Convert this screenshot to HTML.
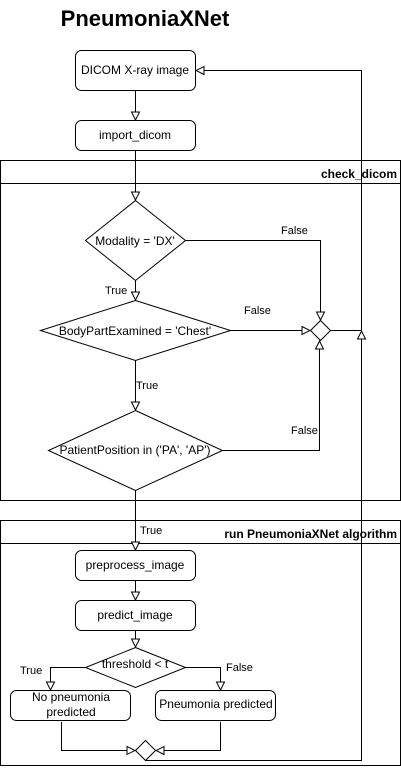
<!DOCTYPE html>
<html><head><meta charset="utf-8"><style>
html,body{margin:0;padding:0;background:#fff;}
svg{display:block;font-family:"Liberation Sans",Arial,sans-serif;}
</style></head><body>
<svg width="401" height="771" viewBox="0 0 401 771" xmlns="http://www.w3.org/2000/svg">
<defs>
<marker id="a" markerWidth="10" markerHeight="10" refX="9" refY="5" orient="auto" markerUnits="userSpaceOnUse">
<path d="M1,1 L9,5 L1,9 Z" fill="#fff" stroke="#000" stroke-width="1"/></marker>
</defs>
<g fill="none" stroke="#000" stroke-width="1">
<!-- pools -->
<rect x="0.5" y="160.5" width="400" height="340" fill="#fff"/>
<line x1="0" y1="183.5" x2="401" y2="183.5"/>
<rect x="0.5" y="520.5" width="400" height="245" fill="#fff"/>
<line x1="0" y1="543.5" x2="401" y2="543.5"/>
<!-- boxes -->
<rect x="75.5" y="50.5" width="120" height="40" rx="6" fill="#fff"/>
<rect x="75.5" y="120.5" width="120" height="30" rx="6" fill="#fff"/>
<rect x="75.5" y="550.5" width="120" height="30" rx="6" fill="#fff"/>
<rect x="75.5" y="600.5" width="120" height="30" rx="6" fill="#fff"/>
<rect x="10.5" y="690.5" width="120" height="30" rx="6" fill="#fff"/>
<rect x="155.5" y="690.5" width="120" height="30" rx="6" fill="#fff"/>
<!-- diamonds -->
<path d="M135.5,200.5 L185.5,240.5 L135.5,280.5 L85.5,240.5 Z" fill="#fff"/>
<path d="M135.5,300.5 L230.5,330.5 L135.5,360.5 L40.5,330.5 Z" fill="#fff"/>
<path d="M135.5,410.5 L222.5,450.5 L135.5,490.5 L48.5,450.5 Z" fill="#fff"/>
<path d="M320.5,320.5 L330.5,330.5 L320.5,340.5 L310.5,330.5 Z" fill="#fff"/>
<path d="M135.5,647.5 L185.5,667.5 L135.5,687.5 L85.5,667.5 Z" fill="#fff"/>
<path d="M145.5,740.5 L155.5,750.5 L145.5,760.5 L135.5,750.5 Z" fill="#fff"/>
<!-- connectors -->
<line x1="135.5" y1="90" x2="135.5" y2="120" marker-end="url(#a)"/>
<line x1="135.5" y1="150" x2="135.5" y2="200" marker-end="url(#a)"/>
<line x1="135.5" y1="280" x2="135.5" y2="300" marker-end="url(#a)"/>
<line x1="135.5" y1="360" x2="135.5" y2="410" marker-end="url(#a)"/>
<line x1="135.5" y1="490" x2="135.5" y2="550" marker-end="url(#a)"/>
<line x1="135.5" y1="580" x2="135.5" y2="600" marker-end="url(#a)"/>
<line x1="135.5" y1="630" x2="135.5" y2="647" marker-end="url(#a)"/>
<polyline points="185.5,240.5 320.5,240.5 320.5,320" marker-end="url(#a)"/>
<line x1="230.5" y1="330.5" x2="310" y2="330.5" marker-end="url(#a)"/>
<polyline points="222.5,450.5 319.5,450.5 319.5,341" marker-end="url(#a)"/>
<line x1="330.5" y1="330.5" x2="361.5" y2="330.5"/>
<polyline points="361.5,330.5 361.5,70.5 196,70.5" marker-end="url(#a)"/>
<polyline points="145.5,760.5 361.5,760.5 361.5,331" marker-end="url(#a)"/>
<polyline points="85.5,667.5 50.5,667.5 50.5,690" marker-end="url(#a)"/>
<polyline points="185.5,667.5 220.5,667.5 220.5,690" marker-end="url(#a)"/>
<polyline points="61.5,722 61.5,750.5 135,750.5" marker-end="url(#a)"/>
<polyline points="220.5,722 220.5,750.5 156,750.5" marker-end="url(#a)"/>
</g>
<g fill="#000" font-size="12">
<text x="145" y="26" font-size="22" font-weight="bold" text-anchor="middle">PneumoniaXNet</text>
<text x="397" y="178" font-weight="bold" text-anchor="end">check_dicom</text>
<text x="397" y="538" font-weight="bold" text-anchor="end">run PneumoniaXNet algorithm</text>
<g text-anchor="middle" font-size="12">
<text x="135" y="74">DICOM X-ray image</text>
<text x="135" y="139">import_dicom</text>
<text x="135" y="569">preprocess_image</text>
<text x="135" y="619">predict_image</text>
<text x="135" y="245">Modality = 'DX'</text>
<text x="135" y="335">BodyPartExamined = 'Chest'</text>
<text x="135" y="454">PatientPosition in ('PA', 'AP')</text>
<text x="135" y="668">threshold &lt; t</text>
<text x="71" y="701">No pneumonia</text>
<text x="71" y="716">predicted</text>
<text x="216" y="708">Pneumonia predicted</text>
</g>
<g font-size="11">
<text x="105" y="294">True</text>
<text x="136" y="389">True</text>
<text x="140" y="534">True</text>
<text x="20" y="674">True</text>
<text x="226" y="671">False</text>
<text x="281" y="234">False</text>
<text x="244" y="314">False</text>
<text x="291" y="434">False</text>
</g>
</g>
</svg>
</body></html>
